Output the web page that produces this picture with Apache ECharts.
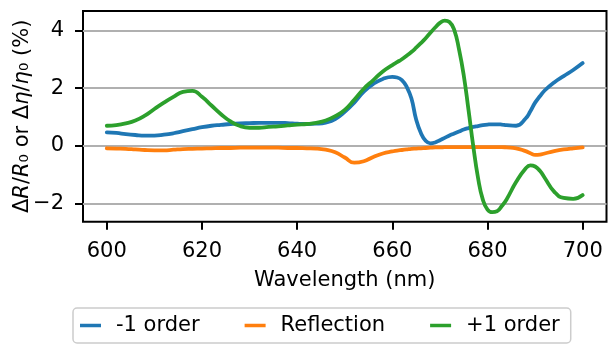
<!DOCTYPE html>
<html>
<head>
<meta charset="utf-8">
<title>Relative change spectra</title>
<script src="https://cdn.jsdelivr.net/npm/echarts@6/dist/echarts.min.js"></script>
<style>
  html, body { margin: 0; padding: 0; background: #ffffff; }
  #chart { width: 608px; height: 345px; }
</style>
</head>
<body>
<div id="chart"></div>
<script>
// Wavelength samples (nm) and relative changes (%) for each channel
const wavelength = [
  600, 602, 604, 606, 608, 610, 612, 614, 616, 618,
  620, 622, 624, 626, 628, 630, 632, 634, 636, 638,
  640, 642, 644, 646, 648, 650, 652, 654, 656, 658,
  660, 661, 662, 663, 664, 665, 666, 667, 668, 669,
  670, 671, 672, 673, 674, 675, 676, 677, 678, 679,
  680, 681, 682, 683, 684, 686, 688, 689, 690, 691,
  692, 694, 696, 698, 700
];
const minusOneOrder = [
  0.47, 0.45, 0.41, 0.38, 0.36, 0.36, 0.39, 0.44, 0.51, 0.58,
  0.65, 0.70, 0.73, 0.76, 0.78, 0.79, 0.80, 0.80, 0.80, 0.79,
  0.77, 0.76, 0.77, 0.81, 0.93, 1.18, 1.50, 1.88, 2.15, 2.32,
  2.39, 2.37, 2.28, 2.05, 1.65, 0.92, 0.45, 0.18, 0.09, 0.12,
  0.20, 0.28, 0.36, 0.43, 0.50, 0.57, 0.62, 0.66, 0.69, 0.72,
  0.74, 0.75, 0.75, 0.74, 0.72, 0.70, 0.95, 1.20, 1.50, 1.72,
  1.92, 2.20, 2.42, 2.63, 2.87
];
const reflection = [
  -0.08, -0.09, -0.10, -0.12, -0.14, -0.15, -0.15, -0.13, -0.11, -0.10,
  -0.09, -0.08, -0.07, -0.07, -0.06, -0.06, -0.06, -0.06, -0.06, -0.07,
  -0.07, -0.08, -0.09, -0.13, -0.22, -0.40, -0.58, -0.53, -0.38, -0.26,
  -0.19, -0.16, -0.14, -0.12, -0.10, -0.09, -0.08, -0.07, -0.06, -0.05,
  -0.05, -0.04, -0.04, -0.04, -0.04, -0.04, -0.04, -0.04, -0.04, -0.04,
  -0.04, -0.04, -0.04, -0.04, -0.05, -0.08, -0.18, -0.25, -0.31, -0.30,
  -0.26, -0.18, -0.12, -0.08, -0.05
];
const plusOneOrder = [
  0.70, 0.72, 0.78, 0.88, 1.05, 1.28, 1.50, 1.70, 1.87, 1.91,
  1.70, 1.40, 1.10, 0.85, 0.69, 0.63, 0.63, 0.66, 0.68, 0.71,
  0.74, 0.76, 0.80, 0.88, 1.03, 1.25, 1.60, 1.98, 2.28, 2.58,
  2.80, 2.90, 3.00, 3.12, 3.25, 3.40, 3.56, 3.73, 3.92, 4.10,
  4.26, 4.34, 4.29, 4.02, 3.35, 2.45, 1.25, 0.00, -1.10, -1.85,
  -2.20, -2.29, -2.26, -2.08, -1.85, -1.25, -0.78, -0.67, -0.71, -0.86,
  -1.10, -1.58, -1.80, -1.83, -1.70
];

const seriesNames = ['-1 order', 'Reflection', '+1 order'];
const seriesColors = ['#1f77b4', '#ff7f0e', '#2ca02c'];
const xTickValues = [600, 620, 640, 660, 680, 700];
const yTickValues = [-2, 0, 2, 4];
const xAxisTitle = 'Wavelength (nm)';
const yAxisTitle = '{n|Δ}{i|R}{n|/}{i|R}{n|₀ or Δ}{i|η}{n|/}{i|η}{n|₀ (%)}';

// Plot box in pixels
const FONT = 'DejaVu Sans';
const plot = { left: 83, top: 11, right: 606.5, bottom: 221.7 };
const plotW = plot.right - plot.left;
const plotH = plot.bottom - plot.top;

// Data limits with a 5% margin on each side
function padded(lo, hi) {
  const m = (hi - lo) * 0.05;
  return [lo - m, hi + m];
}
const xExt = padded(Math.min(...wavelength), Math.max(...wavelength));
const allValues = minusOneOrder.concat(reflection, plusOneOrder);
const yExt = padded(Math.min(...allValues), Math.max(...allValues));
const xPx = v => plot.left + (v - xExt[0]) / (xExt[1] - xExt[0]) * plotW;
const yPx = v => plot.bottom - (v - yExt[0]) / (yExt[1] - yExt[0]) * plotH;

// Tick axes live in their own grids spanning exactly the first..last tick
const xTickLeft = xPx(xTickValues[0]);
const xTickRight = xPx(xTickValues[xTickValues.length - 1]);
const yTickTop = yPx(yTickValues[yTickValues.length - 1]);
const yTickBottom = yPx(yTickValues[0]);

const textBase = { fontFamily: FONT, fontSize: 21, color: '#000000' };
const tickStyle = { show: true, inside: false, length: 8, lineStyle: { color: '#000000', width: 2 } };

const chart = echarts.init(document.getElementById('chart'), null, { renderer: 'canvas' });

const series = [minusOneOrder, reflection, plusOneOrder].map((values, k) => ({
  name: seriesNames[k],
  type: 'line',
  xAxisIndex: 0,
  yAxisIndex: 0,
  data: wavelength.map((w, i) => [w, values[i]]),
  showSymbol: false,
  symbol: 'none',
  smooth: 0.5,
  color: seriesColors[k],
  lineStyle: { color: seriesColors[k], width: 3.8, cap: 'round', join: 'round' },
  z: 3 + k
}));

chart.setOption({
  animation: false,
  backgroundColor: '#ffffff',
  grid: [
    { left: plot.left, top: plot.top, width: plotW, height: plotH, show: true,
      borderColor: '#000000', borderWidth: 2, backgroundColor: 'transparent' },
    { left: xTickLeft, top: plot.top, width: xTickRight - xTickLeft, height: plotH },
    { left: plot.left, top: yTickTop, width: plotW, height: yTickBottom - yTickTop }
  ],
  xAxis: [
    { gridIndex: 0, type: 'value', min: xExt[0], max: xExt[1], show: false },
    {
      gridIndex: 1, type: 'value', position: 'bottom',
      min: xTickValues[0], max: xTickValues[xTickValues.length - 1],
      interval: xTickValues[1] - xTickValues[0],
      axisLine: { show: false },
      axisTick: tickStyle,
      axisLabel: Object.assign({ margin: 19 }, textBase),
      splitLine: { show: false },
      name: xAxisTitle, nameLocation: 'middle', nameGap: 48,
      nameTextStyle: textBase
    },
    { gridIndex: 2, type: 'value', show: false }
  ],
  yAxis: [
    {
      gridIndex: 0, type: 'value', min: yExt[0], max: yExt[1],
      axisLine: { show: false }, axisTick: { show: false },
      axisLabel: { show: false }, splitLine: { show: false },
      name: yAxisTitle, nameLocation: 'middle', nameGap: 50, nameRotate: 90,
      nameTextStyle: Object.assign({}, textBase, {
        rich: {
          n: Object.assign({}, textBase),
          i: Object.assign({ fontStyle: 'italic' }, textBase)
        }
      })
    },
    { gridIndex: 1, type: 'value', show: false },
    {
      gridIndex: 2, type: 'value',
      min: yTickValues[0], max: yTickValues[yTickValues.length - 1],
      interval: yTickValues[1] - yTickValues[0],
      axisLine: { show: false },
      axisTick: tickStyle,
      axisLabel: Object.assign({
        margin: 19,
        formatter: v => String(v).replace('-', '\u2212')
      }, textBase),
      splitLine: { show: true, lineStyle: { color: '#b0b0b0', width: 2 } }
    }
  ],
  legend: {
    data: seriesNames,
    left: 73, top: 308,
    orient: 'horizontal',
    icon: 'rect',
    itemWidth: 21, itemHeight: 3.5,
    itemGap: 45,
    padding: [7, 11, 7, 7],
    borderColor: '#cccccc', borderWidth: 1.5, borderRadius: 4,
    backgroundColor: 'rgba(255,255,255,0.8)',
    textStyle: Object.assign({ padding: [0, 0, 0, 10] }, textBase)
  },
  series: series
});
</script>
</body>
</html>
